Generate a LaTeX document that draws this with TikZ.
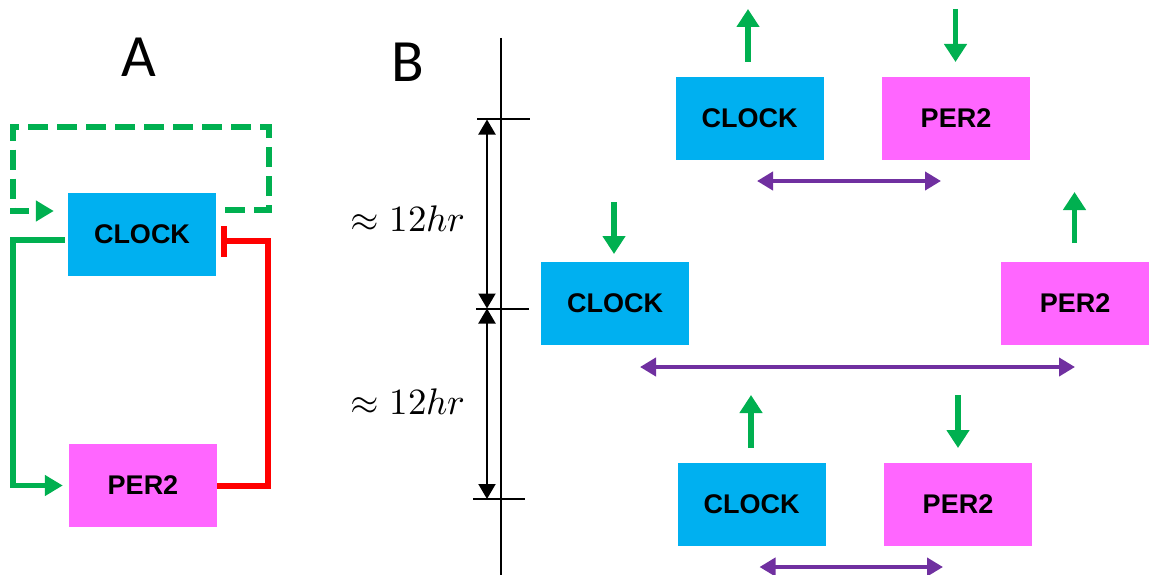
\documentclass[tikz,border=0pt]{standalone}
\usepackage{fontspec}
\usepackage{unicode-math}
\setmathfont{Latin Modern Math}
\newfontfamily\titlefont{Carlito}
\newfontfamily\boxfont{Liberation Sans}
\usetikzlibrary{arrows.meta,calc}
\definecolor{clockcol}{HTML}{00B0F0}
\definecolor{percol}{HTML}{FF66FF}
\definecolor{gcol}{HTML}{00B050}
\definecolor{rcol}{HTML}{FF0000}
\definecolor{pcol}{HTML}{7030A0}
\tikzset{
  box/.style={inner sep=0pt, minimum width=148pt, minimum height=83pt,
    font=\boxfont\bfseries\fontsize{27}{30}\selectfont},
  clockbox/.style={box, fill=clockcol},
  perbox/.style={box, fill=percol},
  title/.style={inner sep=0pt, font=\titlefont\fontsize{60}{66}\selectfont},
  hrlabel/.style={inner sep=0pt, font=\fontsize{37}{42}\selectfont},
  garrow/.style={line width=5.5pt, draw=gcol, -{Triangle[length=18pt,width=22pt]}},
  aline/.style={line width=5.5pt, draw=gcol, -{Triangle[length=18pt,width=20pt]}},
  dashloop/.style={aline, dash pattern=on 20pt off 9pt},
  inhib/.style={line width=6pt, draw=rcol, -{Rectangle[length=6pt,width=31pt]}},
  parrow/.style={line width=4pt, draw=pcol, {Triangle[length=16pt,width=18pt]}-{Triangle[length=16pt,width=18pt]}},
  axis/.style={line width=2pt, draw=black},
  dimarrow/.style={line width=2pt, draw=black, {Triangle[length=15pt,width=17pt]}-{Triangle[length=15pt,width=17pt]}}
}
\begin{document}
\begin{tikzpicture}[x=1pt,y=-1pt]
\useasboundingbox (0,0) rectangle (1150,575);

% ---------- Panel A ----------
\node[title] (tA) at (139,57) {A};
\node[clockbox] (cA) at (142,234) {CLOCK};
\node[perbox] (pA) at (143,485.5) {PER2};

\draw[dashloop] ($(cA.east)+(9,-24)$) -| ($(cA.east)+(53,-107)$) -| ($(cA.west)+(-55,-23)$) -- ($(cA.west)+(-14,-23)$);
\draw[aline] ($(cA.west)+(-3,6)$) -| ($(pA.west)+(-56,0)$) -- ($(pA.west)+(-6,0)$);
\draw[inhib] (pA.east) -| ($(cA.east)+(51.5,7)$) -- ($(cA.east)+(5,7)$);

% ---------- Panel B ----------
\node[title] (tB) at (408,62) {B};

% time axis
\coordinate (axt) at (501,38);
\coordinate (axb) at (501,575);
\draw[axis] (axt) -- (axb);
\coordinate (t1l) at (477,119.5); \coordinate (t1r) at (530,119.5);
\coordinate (t2l) at (476,308.5); \coordinate (t2r) at (529,308.5);
\coordinate (t3l) at (473,499);   \coordinate (t3r) at (525,499);
\draw[axis] (t1l) -- (t1r);
\draw[axis] (t2l) -- (t2r);
\draw[axis] (t3l) -- (t3r);
\coordinate (d1) at (487,119.5);
\coordinate (d2) at (487,308.5);
\coordinate (d3) at (487,499);
\draw[dimarrow] (d1) -- (d2);
\draw[dimarrow] (d2) -- (d3);
\node[hrlabel] (h1) at (408,219) {$\approx 12hr$};
\node[hrlabel] (h2) at (408,402) {$\approx 12hr$};

% boxes
\node[clockbox] (c1) at (749.5,118.5) {CLOCK};
\node[perbox]   (p1) at (956,118.5) {PER2};
\node[clockbox] (c2) at (615,303) {CLOCK};
\node[perbox]   (p2) at (1075,303) {PER2};
\node[clockbox] (c3) at (751.5,504.5) {CLOCK};
\node[perbox]   (p3) at (958,504.5) {PER2};

% green arrows
\coordinate (g1a) at (748,62);    \coordinate (g1b) at (748,9);
\coordinate (g2a) at (955.5,9);   \coordinate (g2b) at (955.5,62);
\coordinate (g3a) at (614,202);   \coordinate (g3b) at (614,254);
\coordinate (g4a) at (1074.5,243);\coordinate (g4b) at (1074.5,192);
\coordinate (g5a) at (751,448);   \coordinate (g5b) at (751,395);
\coordinate (g6a) at (958,395);   \coordinate (g6b) at (958,448);
\draw[garrow] (g1a) -- (g1b);
\draw[garrow] (g2a) -- (g2b);
\draw[garrow] (g3a) -- (g3b);
\draw[garrow] (g4a) -- (g4b);
\draw[garrow] (g5a) -- (g5b);
\draw[garrow] (g6a) -- (g6b);

% purple arrows
\coordinate (pu1a) at (757,181);   \coordinate (pu1b) at (941,181);
\coordinate (pu2a) at (640,367);   \coordinate (pu2b) at (1075,367);
\coordinate (pu3a) at (759.5,567); \coordinate (pu3b) at (943,567);
\draw[parrow] (pu1a) -- (pu1b);
\draw[parrow] (pu2a) -- (pu2b);
\draw[parrow] (pu3a) -- (pu3b);
\end{tikzpicture}
\end{document}
